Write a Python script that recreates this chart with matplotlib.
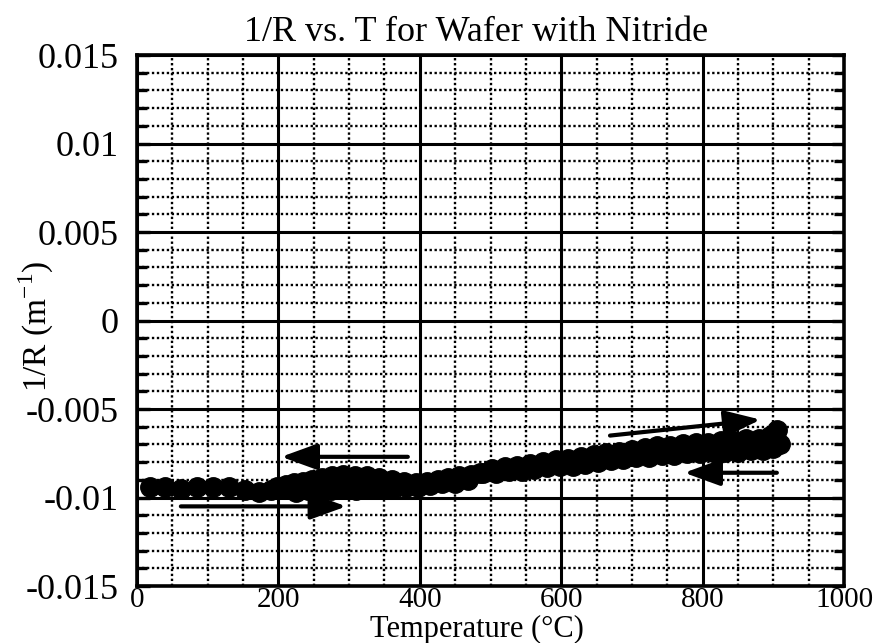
import numpy as np
import matplotlib
matplotlib.use('Agg')
import matplotlib.pyplot as plt
from matplotlib.ticker import MultipleLocator

plt.rcParams['font.family'] = 'Liberation Serif'
plt.rcParams['axes.unicode_minus'] = False

# heating run (going up in temperature)
heat_T = [18, 40, 62, 85, 108, 130, 152, 172, 190, 208, 225, 242, 258, 275, 292,
          310, 328, 345, 362, 380, 398, 415, 432, 450, 468, 485, 502, 520, 538, 556,
          574, 592, 610, 628, 646, 664, 682, 700, 718, 736, 754, 772, 790, 808, 826,
          844, 862, 880, 895, 905]
heat_R = [-0.0094, -0.0094, -0.0095, -0.0094, -0.0094, -0.0094, -0.0096, -0.0097, -0.0096, -0.0095,
          -0.0097, -0.0096, -0.0098, -0.0096, -0.0095, -0.0096, -0.0095, -0.0095, -0.0095, -0.0094,
          -0.0094, -0.0093, -0.0092, -0.0092, -0.0090, -0.0086, -0.0084, -0.0083, -0.0082, -0.0081,
          -0.0080, -0.0079, -0.0078, -0.0077, -0.0076, -0.0075, -0.0074, -0.0073, -0.0072, -0.0071,
          -0.0071, -0.0070, -0.0069, -0.0069, -0.0068, -0.0068, -0.0067, -0.0067, -0.0065, -0.0062]

# cooling run (coming back down)
cool_T = [910, 900, 885, 868, 850, 832, 814, 796, 778, 760, 742, 724, 706, 688, 670,
          652, 634, 616, 598, 580, 562, 544, 526, 508, 490, 472, 455, 440, 425, 410,
          395, 378, 360, 342, 325, 308, 292, 276, 262, 248, 235, 222, 210, 198]
cool_R = [-0.0070, -0.0072, -0.0073, -0.0073, -0.0074, -0.0074, -0.0074, -0.0075, -0.0075, -0.0076,
          -0.0076, -0.0077, -0.0077, -0.0078, -0.0079, -0.0080, -0.0081, -0.0082, -0.0082, -0.0083,
          -0.0084, -0.0085, -0.0085, -0.0086, -0.0086, -0.0087, -0.0088, -0.0089, -0.0090, -0.0091,
          -0.0092, -0.0091, -0.0090, -0.0089, -0.0088, -0.0088, -0.0087, -0.0088, -0.0089, -0.0090,
          -0.0091, -0.0092, -0.0093, -0.0094]

# direction arrows: (T_start, R_start, T_end, R_end)
arrows = [(383, -0.0077, 204, -0.0077),
          (62, -0.0105, 296, -0.0105),
          (669, -0.0065, 882, -0.0056),
          (905, -0.0086, 774, -0.0086)]

y_ticks = [0.015, 0.01, 0.005, 0, -0.005, -0.01, -0.015]
y_labels = ['0.015', '0.01', '0.005', '0', '-0.005', '-0.01', '-0.015']
x_ticks = [0, 200, 400, 600, 800, 1000]

fig = plt.figure(figsize=(8.74, 6.43), dpi=100)
ax = fig.add_axes([0.1568, 0.0886, 0.8089, 0.8258])

ax.set_xlim(0, 1000)
ax.set_ylim(-0.015, 0.015)
ax.set_xticks(x_ticks)
ax.set_yticks(y_ticks)
ax.set_yticklabels(y_labels)
ax.xaxis.set_minor_locator(MultipleLocator(50))
ax.yaxis.set_minor_locator(MultipleLocator(0.001))

ax.grid(True, which='major', color='black', linewidth=2.2, linestyle='-')
ax.grid(True, which='minor', color='black', linewidth=1.7, linestyle=(0, (1, 1.1)))
ax.set_axisbelow(True)

ax.tick_params(axis='y', which='both', direction='in', left=True, right=True,
               width=2.4, labelsize=26, pad=13)
ax.tick_params(axis='y', which='major', length=9)
ax.tick_params(axis='y', which='minor', length=7)
ax.tick_params(axis='x', which='both', length=0, labelsize=21, pad=1)
for s in ax.spines.values():
    s.set_linewidth(2.6)

ax.plot(heat_T, heat_R, 'o', color='black', markersize=14, zorder=3)
ax.plot(cool_T, cool_R, 'o', color='black', markersize=14, zorder=3)

for t0, r0, t1, r1 in arrows:
    ax.annotate('', xy=(t1, r1), xytext=(t0, r0),
                arrowprops=dict(arrowstyle='-|>,head_length=1.1,head_width=0.4',
                                mutation_scale=20, color='black', lw=3,
                                shrinkA=0, shrinkB=0), zorder=4)

ax.set_title('1/R vs. T for Wafer with Nitride', fontsize=26, pad=10, x=0.48)
ax.set_xlabel('Temperature (°C)', fontsize=22)
ax.xaxis.set_label_coords(0.481, -0.054)
ax.set_ylabel('1/R (m$^{\\mathregular{-1}}$)', fontsize=24)
ax.yaxis.set_label_coords(-0.115, 0.49)

plt.savefig('out.png', dpi=100)
